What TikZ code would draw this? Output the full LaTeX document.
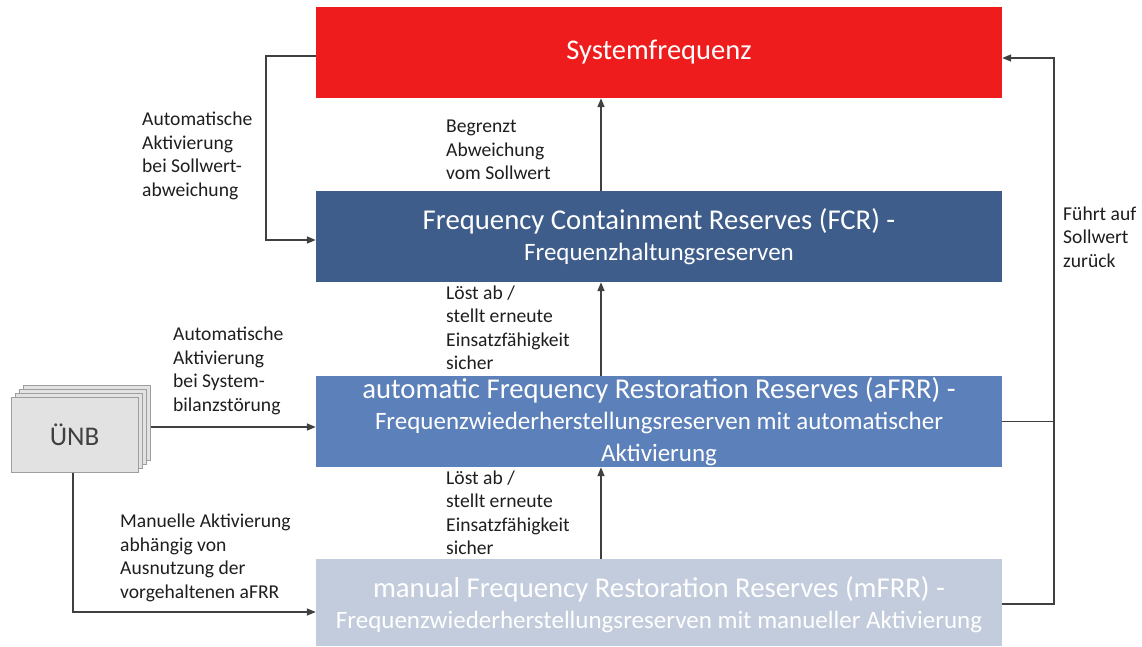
\documentclass[tikz,border=0pt]{standalone}
\usepackage{fontspec}
\setmainfont{Carlito}
\usetikzlibrary{arrows.meta}
\definecolor{sysred}{HTML}{EE1C1C}
\definecolor{fcrblue}{HTML}{3E5D8B}
\definecolor{afrrblue}{HTML}{5C80BA}
\definecolor{mfrrgray}{HTML}{C3CCDC}
\definecolor{linegray}{HTML}{404040}
\definecolor{txtgray}{HTML}{1E1E1E}
\definecolor{unbfill}{HTML}{E2E2E2}
\definecolor{unbedge}{HTML}{9E9E9E}
\newcommand\firstline[1]{{\fontsize{28.7}{31.5}\selectfont #1}}
\begin{document}
\begin{tikzpicture}[x=1pt,y=-1pt,
  box/.style={minimum width=686pt, minimum height=91pt, inner sep=0pt,
    text=white, align=center, font=\fontsize{25}{31.5}\selectfont},
  lbl/.style={anchor=north west, align=left, inner sep=0pt, text=txtgray,
    font=\fontsize{19.6}{23.5}\selectfont},
  conn/.style={draw=linegray, line width=1.5pt},
  arr/.style={conn, -{Triangle[length=9pt,width=7pt]}},
  sheet/.style={draw=unbedge, fill=unbfill, minimum width=127pt,
    minimum height=75pt, inner sep=0pt, line width=1pt}
]
\useasboundingbox (0,0) rectangle (1142,646);

% reserve stages
\node[box, fill=sysred, font=\fontsize{28.5}{32}\selectfont] (sys) at (659,52.5) {Systemfrequenz};
\node[box, fill=fcrblue] (fcr) at (659,236.5)
  {\firstline{Frequency Containment Reserves (FCR) -}\\Frequenzhaltungsreserven};
\node[box, fill=afrrblue] (afrr) at (659,421.5)
  {\firstline{automatic Frequency Restoration Reserves (aFRR) -}\\
   Frequenzwiederherstellungsreserven mit automatischer\\Aktivierung};
\node[box, fill=mfrrgray, minimum height=87pt] (mfrr) at (659,602.5) {};
\node[box, minimum height=0pt] (mfrrtext) at ([yshift=-2pt]mfrr.center)
  {\firstline{manual Frequency Restoration Reserves (mFRR) -}\\
   Frequenzwiederherstellungsreserven mit manueller Aktivierung};

% stacked sheets of the TSO
\node[sheet] (unbc) at (86.5,422.5) {};
\node[sheet] (unbb) at (82.5,426.5) {};
\node[sheet] (unba) at (78.5,430.5) {};
\node[sheet, text=linegray, font=\fontsize{27}{30}\selectfont] (unb) at (74.5,434.5) {ÜNB};

% connection points
\coordinate (sysleft) at ([yshift=-3.5pt]sys.west);
\coordinate (fcrin) at ([yshift=-3.5pt]fcr.west);
\coordinate (sysin) at ([yshift=-5.5pt]sys.east);
\coordinate (afrrin) at ([yshift=-5.5pt]afrr.west);
\coordinate (mfrrin) at ([yshift=-9.5pt]mfrr.west);
\coordinate (mfrrout) at ([yshift=-1.5pt]mfrr.east);
\coordinate (rx) at (1054,0);
\coordinate (lx) at (266,0);

% connectors
\draw[arr] (sysleft) -- (sysleft -| lx) |- (fcrin);
\draw[arr] ([xshift=-58pt]fcr.north) -- ([xshift=-58pt]sys.south);
\draw[arr] ([xshift=-58pt]afrr.north) -- ([xshift=-58pt]fcr.south);
\draw[arr] ([xshift=-58pt]mfrr.north) -- ([xshift=-58pt]afrr.south);
\draw[arr] (unbc.east |- afrrin) -- (afrrin);
\draw[arr] ([xshift=-1.5pt]unb.south) |- (mfrrin);
\draw[conn] (afrr.east) -- (afrr.east -| rx);
\draw[arr] (mfrrout) -| (rx |- sysin) -- (sysin);

% labels
\node[lbl] (l1) at (142,111.7) {Automatische\\Aktivierung\\bei Sollwert-\\abweichung};
\node[lbl] (l2) at (446,120) {Begrenzt\\Abweichung\\vom Sollwert};
\node[lbl] (l3) at (446,285.5) {Löst ab /\\stellt erneute\\Einsatzfähigkeit\\sicher};
\node[lbl] (l4) at (446,470.5) {Löst ab /\\stellt erneute\\Einsatzfähigkeit\\sicher};
\node[lbl] (l5) at (173,326.7) {Automatische\\Aktivierung\\bei System-\\bilanzstörung};
\node[lbl] (l6) at (120,513.7) {Manuelle Aktivierung\\abhängig von\\Ausnutzung der\\vorgehaltenen aFRR};
\node[lbl] (l7) at (1063,206.5) {Führt auf\\Sollwert\\zurück};
\end{tikzpicture}
\end{document}
